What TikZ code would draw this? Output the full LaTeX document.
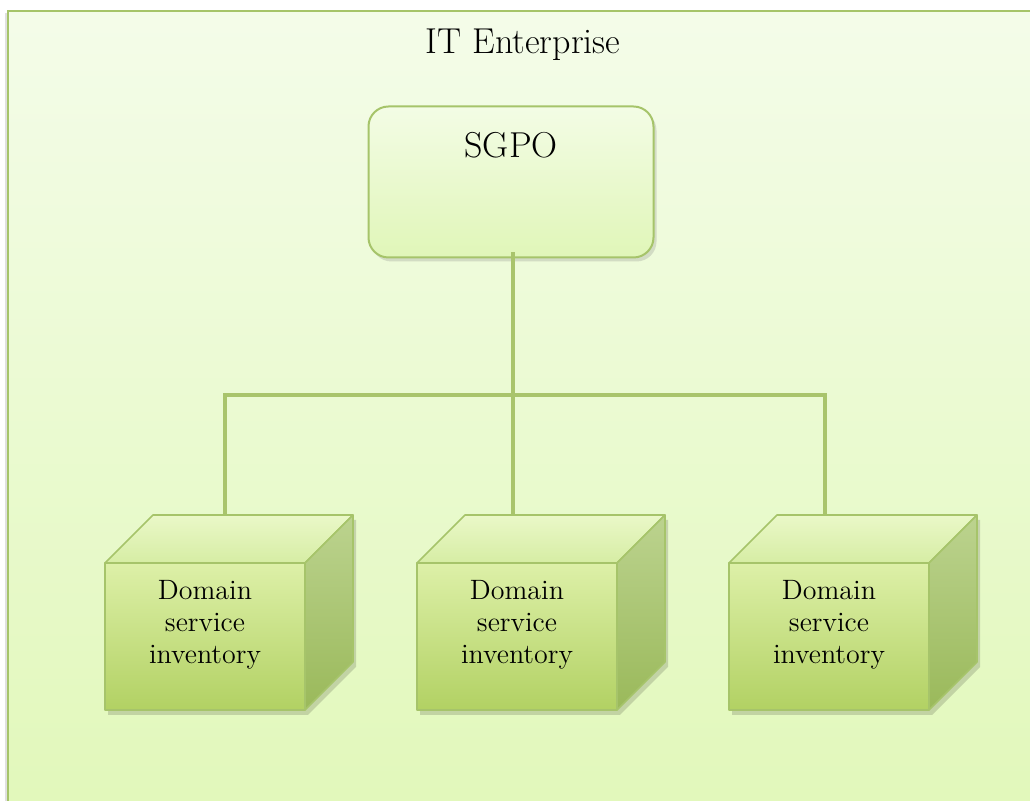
\documentclass[tikz,border=0pt]{standalone}
\usetikzlibrary{shadows}
\definecolor{edgegreen}{HTML}{A6C46A}
\definecolor{linegreen}{HTML}{A9C46C}
\definecolor{bgtop}{HTML}{F4FCE9}
\definecolor{bgbot}{HTML}{E1F8B9}
\definecolor{govtop}{HTML}{F3FCE5}
\definecolor{govbot}{HTML}{E0F6B8}
\definecolor{fronttop}{HTML}{DDF0A8}
\definecolor{frontbot}{HTML}{B2D163}
\definecolor{lidtop}{HTML}{EAF8C8}
\definecolor{lidbot}{HTML}{D6EDA4}
\definecolor{sidetop}{HTML}{BCD38F}
\definecolor{sidebot}{HTML}{9AB95A}
\tikzset{
  link/.style={linegreen, line width=2.4pt},
  gov/.style={draw=edgegreen, line width=1pt, rounded corners=10pt,
    top color=govtop, bottom color=govbot, minimum width=142.5pt, minimum height=75.5pt,
    drop shadow={opacity=.25, shadow xshift=1.5pt, shadow yshift=-2pt}},
  face/.style={draw=edgegreen, line width=.8pt, line join=round},
  dsi/.style={align=center, font=\fontsize{14}{16}\selectfont}
}
\begin{document}
\begin{tikzpicture}[x=.5pt, y=-.5pt, every node/.style={font=\fontsize{18}{20}\selectfont}]
  \useasboundingbox (0,0) rectangle (1030,801);
  % enterprise frame
  \fill[black, opacity=.12] (5,13) rectangle (1060,830);
  \shade[top color=bgtop, bottom color=bgbot] (8,11) rectangle (1060,830);
  \draw[edgegreen, line width=1pt] (8,830) -- (8,11) -- (1060,11);
  \node (ent) at (523,45) {IT Enterprise};
  % governance program office
  \node[gov] (sgpo) at (511,182) {};
  \node (sgpolbl) at (511,145) {SGPO};
  \coordinate (hub) at (513,395);
  \coordinate (top1) at (225,515); \coordinate (top2) at (513,515); \coordinate (top3) at (825,515);
  \draw[link] ([yshift=3pt]sgpo.south -| top2) -- (top2);
  \draw[link, line join=miter] (top1) -- (top1 |- hub) -- (top3 |- hub) -- (top3);
  % domain inventories
  \foreach \x/\n in {105/1,417/2,729/3} {
    \fill[black, opacity=.15, shift={(3,5)}] (\x,563) -- (\x+48,515) -- (\x+248,515) -- (\x+248,662) -- (\x+200,710) -- (\x,710) -- cycle;
    \shade[face, top color=lidtop, bottom color=lidbot] (\x,563) -- (\x+48,515) -- (\x+248,515) -- (\x+200,563) -- cycle;
    \shade[face, top color=sidetop, bottom color=sidebot] (\x+200,563) -- (\x+248,515) -- (\x+248,662) -- (\x+200,710) -- cycle;
    \shade[face, top color=fronttop, bottom color=frontbot] (\x,563) rectangle (\x+200,710);
    \node[dsi] (dom\n) at (\x+100,625) {Domain\\service\\inventory};
  }
\end{tikzpicture}
\end{document}
